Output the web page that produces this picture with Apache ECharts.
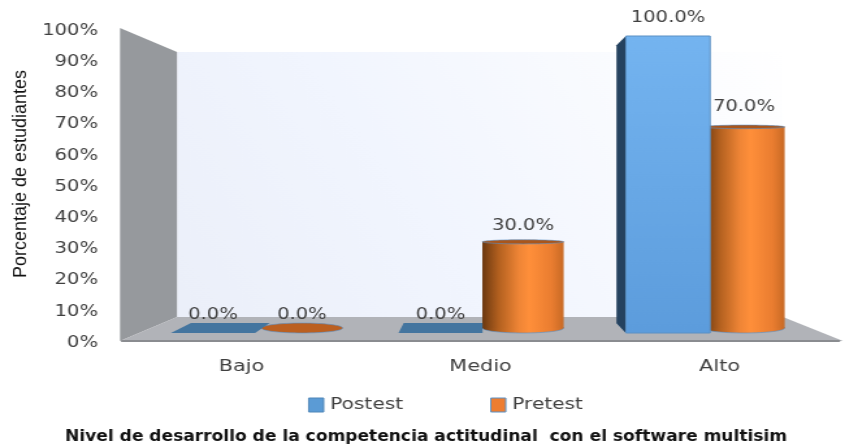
<!DOCTYPE html>
<html>
<head>
<meta charset="utf-8" />
<style>
  html, body { margin: 0; padding: 0; background: #fff; overflow: hidden; }
  /* the picture is a screenshot pulled wider than it was drawn, so the chart is pulled too */
  #chart { width: 650px; height: 447px; transform: scaleX(1.3); transform-origin: 0 0; }
</style>
</head>
<body>
<div id="chart"></div>
<script src="https://cdn.jsdelivr.net/npm/echarts@6/dist/echarts.min.js"></script>
<script>
const categories = ["Bajo", "Medio", "Alto"];
const postest = [0, 0, 100];
const pretest = [0, 30, 70];

const textColor = "#404040";
const labelFont = "DejaVu Sans";
const edgeColor = "rgba(90, 144, 196, 0.6)";

// page x to chart x
const stretch = 1.3;
const px = (x) => x / stretch;

// perspective of the 3D plot: depth moves a point towards this spot
const vpX = px(480);
const vpY = 180;
const depth = 0.065;

function back(p) {
  return [p[0] + (vpX - p[0]) * depth, p[1] + (vpY - p[1]) * depth];
}

function valueLabel(x, y, value) {
  return {
    type: "text",
    z2: 10,
    style: {
      text: value.toFixed(1) + "%",
      x: x,
      y: y - 18,
      align: "center",
      verticalAlign: "middle",
      fontFamily: labelFont,
      fontSize: 15,
      fill: textColor,
    },
  };
}

// box for Postest
function renderBox(params, api) {
  const i = api.value(0);
  const value = api.value(1);
  const base = api.coord([i, 0]);
  const top = api.coord([i, value]);
  const half = api.size([1, 0])[0] * 0.185;
  const l = base[0] - half;
  const r = base[0] + half;
  const children = [];

  // floor of the box, all that is left of a 0% bar
  children.push({
    type: "polygon",
    shape: { points: [[l, base[1]], [r, base[1]], back([r, base[1]]), back([l, base[1]])] },
    style: { fill: "#44759f" },
  });
  if (value > 0) {
    const sideX = l > vpX ? l : r;
    if (l > vpX || r < vpX) {
      children.push({
        type: "polygon",
        shape: { points: [[sideX, top[1]], [sideX, base[1]], back([sideX, base[1]]), back([sideX, top[1]])] },
        style: { fill: "#25425f" },
      });
    }
    children.push({
      type: "rect",
      shape: { x: l, y: top[1], width: r - l, height: base[1] - top[1] },
      style: {
        fill: new echarts.graphic.LinearGradient(0, 0, 0, 1, [
          { offset: 0, color: "#74b4f0" },
          { offset: 1, color: "#5c9cdc" },
        ]),
        stroke: "#5a90c4",
        lineWidth: 1,
      },
    });
  }
  children.push(valueLabel(base[0], top[1], value));
  return { type: "group", children: children };
}

// cylinder for Pretest
function renderCylinder(params, api) {
  const i = api.value(0);
  const value = api.value(1);
  const base = api.coord([i, 0]);
  const top = api.coord([i, value]);
  const half = api.size([1, 0])[0] * 0.184;
  const cx = base[0];
  const baseY = base[1] + (vpY - base[1]) * depth * 0.5;
  const baseR = Math.abs(base[1] - vpY) * depth * 0.5;
  const topY = top[1] + (vpY - top[1]) * depth * 0.5;
  const topR = Math.abs(top[1] - vpY) * depth * 0.5;
  const children = [];

  if (value > 0) {
    const body = new echarts.graphic.LinearGradient(0, 0, 1, 0, [
      { offset: 0, color: "#6b3810" },
      { offset: 0.2, color: "#b2601f" },
      { offset: 0.45, color: "#ef8536" },
      { offset: 0.58, color: "#ff8f3a" },
      { offset: 0.85, color: "#ea7d30" },
      { offset: 1, color: "#c86a25" },
    ]);
    children.push({
      type: "ellipse",
      shape: { cx: cx, cy: baseY, rx: half, ry: baseR },
      style: { fill: body, stroke: edgeColor, lineWidth: 1 },
    });
    children.push({
      type: "rect",
      shape: { x: cx - half, y: topY, width: half * 2, height: baseY - topY },
      style: { fill: body },
    });
  }
  children.push({
    type: "ellipse",
    shape: { cx: cx, cy: topY, rx: half, ry: topR },
    style: { fill: value > 0 ? "#a9561c" : "#bb5f20", stroke: edgeColor, lineWidth: 1 },
  });
  children.push(valueLabel(cx, top[1], value));
  return { type: "group", children: children };
}

const myChart = echarts.init(document.getElementById("chart"), null, { width: 650, height: 447 });

const option = {
  animation: false,
  legend: {
    left: px(308),
    top: 397,
    padding: 0,
    itemWidth: px(15),
    itemHeight: 14,
    itemGap: px(87),
    icon: "rect",
    textStyle: { fontFamily: labelFont, fontSize: 15.5, color: textColor },
    data: [
      { name: "Postest", itemStyle: { color: "#5b9bd5", borderColor: "#4f86b8", borderWidth: 1 } },
      { name: "Pretest", itemStyle: { color: "#ed7d31", borderColor: "#5a90c4", borderWidth: 1 } },
    ],
  },
  // grid 0 carries the visible axes, 1 and 2 place the bars on the nearer planes
  grid: [
    { left: px(122), width: px(717), top: 31, height: 312, outerBoundsMode: "none" },
    { left: px(99.25), width: px(682.5), top: 36, height: 297, outerBoundsMode: "none" },
    { left: px(191.5), width: px(663), top: 36, height: 297, outerBoundsMode: "none" },
  ],
  xAxis: [
    {
      type: "category",
      gridIndex: 0,
      offset: -2,
      data: categories,
      axisLine: { lineStyle: { color: "#8a8c90", width: 2 } },
      axisTick: { show: false },
      axisLabel: { margin: 18, fontFamily: labelFont, fontSize: 16, color: textColor },
    },
    { type: "category", gridIndex: 1, data: categories, show: false },
    { type: "category", gridIndex: 2, data: categories, show: false },
  ],
  yAxis: [
    {
      type: "value",
      gridIndex: 0,
      min: 0,
      max: 100,
      interval: 10,
      axisLine: { show: false },
      axisTick: { show: false },
      splitLine: { show: false },
      axisLabel: {
        formatter: "{value}%",
        margin: px(24),
        fontFamily: labelFont,
        fontSize: 15,
        color: textColor,
      },
    },
    { type: "value", gridIndex: 1, min: 0, max: 100, show: false, splitLine: { show: false } },
    { type: "value", gridIndex: 2, min: 0, max: 100, show: false, splitLine: { show: false } },
  ],
  graphic: [
    {
      type: "polygon",
      z: -1,
      shape: { points: [[px(177), 52], [px(783), 52], [px(783), 317], [px(177), 317]] },
      style: {
        fill: new echarts.graphic.LinearGradient(0, 1, 1, 0, [
          { offset: 0, color: "#ebeff9" },
          { offset: 0.4, color: "#f1f5fe" },
          { offset: 1, color: "#ffffff" },
        ]),
      },
    },
    {
      type: "polygon",
      z: -1,
      shape: { points: [[px(120), 28], [px(177), 52], [px(177), 317], [px(120), 341]] },
      style: { fill: "#96999d" },
    },
    {
      type: "polygon",
      z: -1,
      shape: { points: [[px(177), 317], [px(783), 317], [px(843), 341], [px(120), 341]] },
      style: { fill: "#b1b3b8" },
    },
    {
      // axis title, squeezed across the text because the page stretch widens it
      type: "text",
      rotation: Math.PI / 2,
      x: px(21),
      y: 174,
      scaleY: 0.8,
      style: {
        text: "Porcentaje de estudiantes",
        align: "center",
        verticalAlign: "middle",
        fontFamily: "Liberation Sans",
        fontSize: 18,
        fill: "#111111",
      },
    },
    {
      // chart title, wider font than the rest so it gets less of the stretch
      type: "text",
      x: px(65),
      y: 437,
      scaleX: 0.82,
      style: {
        text: "Nivel de desarrollo de la competencia actitudinal  con el software multisim",
        align: "left",
        verticalAlign: "middle",
        fontFamily: labelFont,
        fontWeight: "bold",
        fontSize: 16,
        fill: "#111111",
      },
    },
  ],
  series: [
    {
      name: "Pretest",
      type: "custom",
      xAxisIndex: 2,
      yAxisIndex: 2,
      z: 2,
      clip: false,
      renderItem: renderCylinder,
      itemStyle: { color: "#ed7d31" },
      encode: { x: 0, y: 1 },
      data: pretest.map((v, i) => [i, v]),
    },
    {
      name: "Postest",
      type: "custom",
      xAxisIndex: 1,
      yAxisIndex: 1,
      z: 3,
      clip: false,
      renderItem: renderBox,
      itemStyle: { color: "#5b9bd5" },
      encode: { x: 0, y: 1 },
      data: postest.map((v, i) => [i, v]),
    },
  ],
};

myChart.setOption(option);
</script>
</body>
</html>
